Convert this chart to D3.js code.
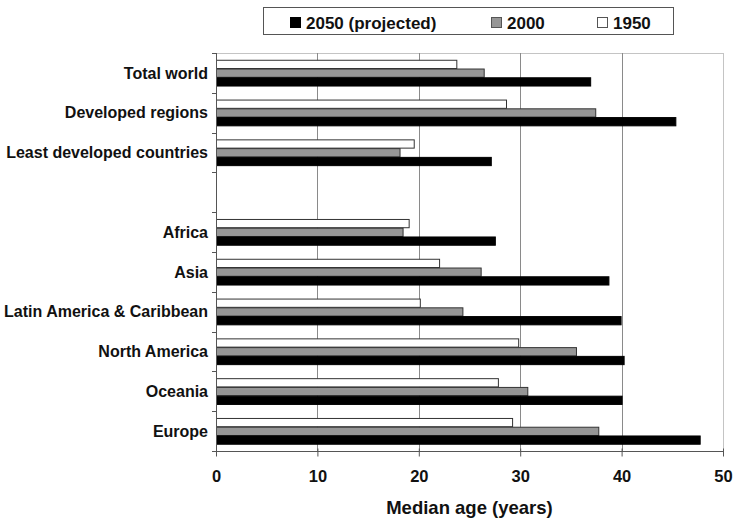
<!DOCTYPE html>
<html>
<head>
<meta charset="utf-8">
<script src="https://cdn.jsdelivr.net/npm/d3@7/dist/d3.min.js"></script>
<style>
  html, body { margin: 0; padding: 0; background: #fff; }
  svg { display: block; }
  text { font-family: "Liberation Sans", Arial, sans-serif; font-weight: bold; fill: #111; }
</style>
</head>
<body>
<svg id="chart" width="733" height="519"></svg>
<script>
// ---- data ----
const categories = ["Total world", "Developed regions", "Least developed countries", "",
  "Africa", "Asia", "Latin America & Caribbean", "North America", "Oceania", "Europe"];
const seriesKeys = ["1950", "2000", "2050"];
const values1950 = [23.7, 28.6, 19.5, null, 19.0, 22.0, 20.1, 29.8, 27.8, 29.2];
const values2000 = [26.4, 37.4, 18.1, null, 18.4, 26.1, 24.3, 35.5, 30.7, 37.7];
const values2050 = [36.9, 45.3, 27.1, null, 27.5, 38.7, 39.9, 40.2, 40.0, 47.7];
const legendKeys = ["2050", "2000", "1950"];
const legendLabels = ["2050 (projected)", "2000", "1950"];
const xTicks = [0, 10, 20, 30, 40, 50];
const xTitle = "Median age (years)";

// ---- layout ----
const W = 733, H = 519;
const plot = { left: 216, right: 723, top: 53, bottom: 451 };
const fills = { "1950": "#ffffff", "2000": "#969696", "2050": "#000000" };
const strokes = { "1950": "#333", "2000": "#333", "2050": "#000" };

const svg = d3.select("#chart");

const x = d3.scaleLinear().domain([0, 50]).range([plot.left, plot.right]);
const y0 = d3.scaleBand().domain(categories.map((c, i) => i)).range([plot.top, plot.bottom]).paddingInner(0).paddingOuter(0);
const bw = y0.bandwidth();
const y1 = d3.scaleBand().domain(seriesKeys).range([bw * 0.17, bw * 0.83]);

const seriesValues = { "1950": values1950, "2000": values2000, "2050": values2050 };

// plot border (top/right light)
svg.append("rect")
  .attr("x", plot.left + 0.5).attr("y", plot.top + 0.5)
  .attr("width", plot.right - plot.left).attr("height", plot.bottom - plot.top)
  .attr("fill", "none").attr("stroke", "#c4c4c4").attr("stroke-width", 1);

// gridlines
svg.append("g").selectAll("line")
  .data(xTicks.filter(t => t > 0 && t < 50))
  .join("line")
  .attr("x1", d => Math.round(x(d)) + 0.5).attr("x2", d => Math.round(x(d)) + 0.5)
  .attr("y1", plot.top).attr("y2", plot.bottom)
  .attr("stroke", "#8a8a8a").attr("stroke-width", 1);

// bars
const groups = svg.append("g").selectAll("g")
  .data(categories.map((c, i) => i))
  .join("g")
  .attr("transform", i => `translate(0,${y0(i)})`);

groups.selectAll("rect")
  .data(i => seriesKeys.map(k => ({ key: k, value: seriesValues[k][i] })).filter(d => d.value != null))
  .join("rect")
  .attr("x", x(0) + 0.5)
  .attr("y", d => y1(d.key) + 0.5)
  .attr("width", d => x(d.value) - x(0))
  .attr("height", y1.bandwidth() - 0.5)
  .attr("fill", d => fills[d.key])
  .attr("stroke", d => strokes[d.key])
  .attr("stroke-width", 1);

// y axis
const yAxisG = svg.append("g");
yAxisG.append("line")
  .attr("x1", plot.left + 0.5).attr("x2", plot.left + 0.5)
  .attr("y1", plot.top).attr("y2", plot.bottom + 0.5)
  .attr("stroke", "#555").attr("stroke-width", 1);
const bounds = categories.map((c, i) => y0(i)).concat([plot.bottom]);
yAxisG.selectAll("line.tick")
  .data(bounds)
  .join("line").attr("class", "tick")
  .attr("x1", plot.left - 4).attr("x2", plot.left)
  .attr("y1", d => Math.round(d) + 0.5).attr("y2", d => Math.round(d) + 0.5)
  .attr("stroke", "#555");
yAxisG.selectAll("text")
  .data(categories.map((c, i) => i).filter(i => categories[i] !== ""))
  .join("text")
  .attr("x", plot.left - 8)
  .attr("y", i => y0(i) + bw / 2)
  .attr("dy", "0.35em")
  .attr("text-anchor", "end")
  .style("font-size", "16px")
  .text(i => categories[i]);

// x axis
const xAxis = d3.axisBottom(x).tickValues(xTicks).tickSize(5).tickPadding(14).tickFormat(d3.format("d"));
const xg = svg.append("g")
  .attr("transform", `translate(0,${plot.bottom + 0.5})`)
  .call(xAxis);
xg.select(".domain").attr("stroke", "#555").attr("d", `M${plot.left},0H${plot.right + 0.5}`);
xg.selectAll(".tick line").attr("stroke", "#555").attr("y1", -3);
xg.selectAll(".tick text")
  .style("font-size", "16.5px")
  .style("font-family", "'Liberation Sans', Arial, sans-serif")
  .style("font-weight", "bold")
  .attr("fill", "#111");

svg.append("text")
  .attr("x", (plot.left + plot.right) / 2)
  .attr("y", 514)
  .attr("text-anchor", "middle")
  .style("font-size", "18.5px")
  .text(xTitle);

// legend
const legend = svg.append("g");
legend.append("rect")
  .attr("x", 263.5).attr("y", 7.5).attr("width", 410).attr("height", 27)
  .attr("fill", "#fff").attr("stroke", "#555").attr("stroke-width", 1);
const legendX = [290, 491, 597];
const items = legend.selectAll("g.item")
  .data(legendKeys.map((k, i) => ({ key: k, label: legendLabels[i], x: legendX[i] })))
  .join("g").attr("class", "item")
  .attr("transform", d => `translate(${d.x},0)`);
items.append("rect")
  .attr("x", 0.5).attr("y", 17.5).attr("width", 10).attr("height", 10)
  .attr("fill", d => fills[d.key]).attr("stroke", d => d.key === "2050" ? "#000" : "#555");
items.append("text")
  .attr("x", 16).attr("y", 28.5)
  .style("font-size", "17px")
  .text(d => d.label);
</script>
</body>
</html>
